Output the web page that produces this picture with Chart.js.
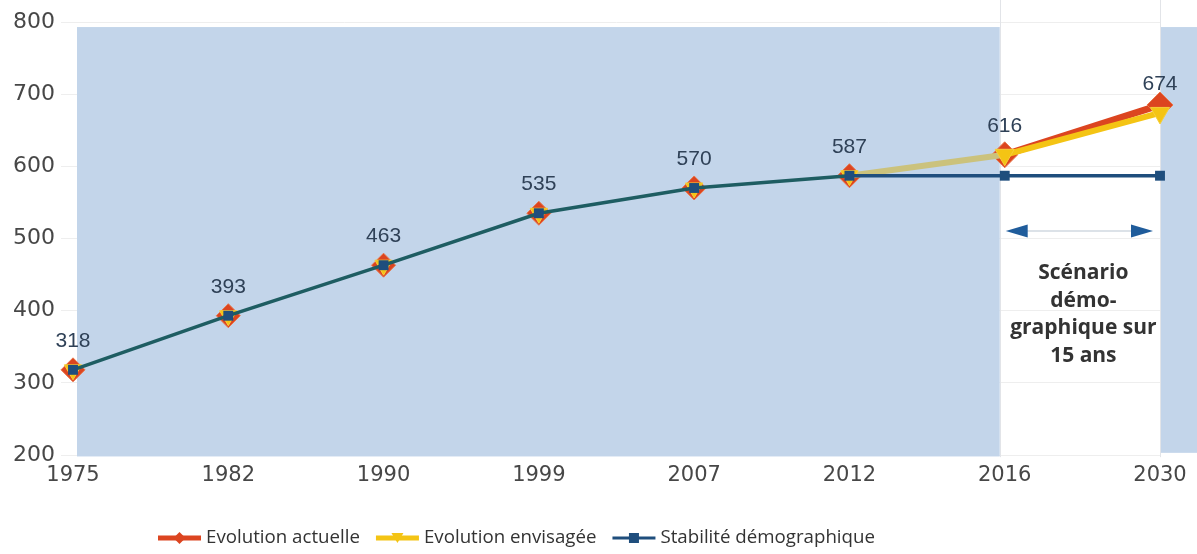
<!DOCTYPE html>
<html lang="fr">
<head>
<meta charset="utf-8">
<title>Évolution de la population</title>
<script src="https://cdn.jsdelivr.net/npm/chart.js@4/dist/chart.umd.min.js"></script>
<style>
  html, body { margin: 0; padding: 0; background: #ffffff; }
  #wrap { width: 1197px; height: 554px; position: relative; }
</style>
</head>
<body>
<div id="wrap"><canvas id="c" width="1197" height="554"></canvas></div>
<script>
// Années (axe des catégories)
const annees = ['1975', '1982', '1990', '1999', '2007', '2012', '2016', '2030'];

// Séries de population
const evolutionActuelle  = [318, 393, 463, 535, 570, 587, 616, 685];
const evolutionEnvisagee = [318, 393, 463, 535, 570, 587, 616, 674];
const stabiliteDemo      = [318, 393, 463, 535, 570, 587, 587, 587];

// Graduations de l'axe vertical
const yMin = 200, yMax = 800, yPas = 100;

// Indices des points étiquetés, par série
const etiquettesActuelle  = [0, 1, 2, 3, 4, 5, 6];
const etiquettesEnvisagee = [7];

const ROUGE = '#dc4520';
const JAUNE = '#f4c414';
const KAKI = '#cbc27c';
const MARINE = '#1f4e7d';
const SARCELLE = '#1e5d62';
const BLEU_FOND = '#c3d5ea';

const police = '"DejaVu Sans", sans-serif';

// Fond bleu (période observée et bande de droite), zone blanche du scénario
const fondPlugin = {
  id: 'fond',
  beforeDatasetsDraw(chart) {
    const { ctx, scales: { x, y } } = chart;
    const x0 = x.getPixelForValue(0), x6 = x.getPixelForValue(6), x7 = x.getPixelForValue(7);
    const top = y.getPixelForValue(793);
    ctx.save();
    ctx.fillStyle = BLEU_FOND;
    ctx.fillRect(x0 + 4, top, (x6 - 5) - (x0 + 4), y.getPixelForValue(198) - top);
    ctx.fillRect(x7, top, chart.width - x7, y.getPixelForValue(203) - top);
    ctx.strokeStyle = '#e2e4e8';
    ctx.lineWidth = 1;
    [x6 - 5, x7].forEach(px => {
      ctx.beginPath();
      ctx.moveTo(Math.round(px) + 0.5, 0);
      ctx.lineTo(Math.round(px) + 0.5, y.getPixelForValue(197));
      ctx.stroke();
    });
    ctx.restore();
  }
};

// Étiquettes de valeurs, flèche et texte du scénario, légende
const annotationsPlugin = {
  id: 'annotations',
  afterDatasetsDraw(chart) {
    const { ctx, scales: { x, y } } = chart;
    ctx.save();
    ctx.font = '21px "Liberation Sans", Arial, sans-serif';
    ctx.fillStyle = '#2f4157';
    ctx.textAlign = 'center';
    ctx.textBaseline = 'middle';
    const etiqueter = (dsIndex, indices) => {
      const meta = chart.getDatasetMeta(dsIndex);
      const data = chart.data.datasets[dsIndex].data;
      indices.forEach(i => {
        const p = meta.data[i];
        ctx.fillText(String(data[i]), p.x, p.y - 29);
      });
    };
    etiqueter(0, etiquettesActuelle);
    etiqueter(1, etiquettesEnvisagee);

    // Flèche double
    const x6 = x.getPixelForValue(6), x7 = x.getPixelForValue(7);
    const ya = 231;
    const xa = x6 + 1, xb = x7 - 7;
    ctx.strokeStyle = '#b9c5d2';
    ctx.lineWidth = 1.2;
    ctx.beginPath(); ctx.moveTo(xa + 18, ya); ctx.lineTo(xb - 18, ya); ctx.stroke();
    ctx.fillStyle = '#1f5c9b';
    ctx.beginPath(); ctx.moveTo(xa, ya); ctx.lineTo(xa + 22, ya - 6.5); ctx.lineTo(xa + 22, ya + 6.5); ctx.closePath(); ctx.fill();
    ctx.beginPath(); ctx.moveTo(xb, ya); ctx.lineTo(xb - 22, ya - 6.5); ctx.lineTo(xb - 22, ya + 6.5); ctx.closePath(); ctx.fill();

    // Texte du scénario
    const cx = (x6 + x7) / 2 + 1;
    ctx.fillStyle = '#333333';
    ctx.font = 'bold 21px "Open Sans", sans-serif';
    ['Scénario', 'démo-', 'graphique sur', '15 ans'].forEach((t, i) => {
      ctx.fillText(t, cx, 273 + i * 27.7);
    });
    ctx.restore();
  },
  afterDraw(chart) {
    // Légende : trait + marqueur + libellé
    const { ctx } = chart;
    ctx.save();
    ctx.font = '18.7px "Open Sans", sans-serif';
    ctx.textBaseline = 'middle';
    ctx.textAlign = 'left';
    let xl = 158;
    const yl = 538;
    chart.data.datasets.forEach(ds => {
      ctx.strokeStyle = ds.legendColor;
      ctx.lineWidth = ds.legendLine;
      ctx.beginPath(); ctx.moveTo(xl, yl); ctx.lineTo(xl + 43, yl); ctx.stroke();
      const mx = xl + 21.5;
      ctx.fillStyle = ds.legendColor;
      ctx.beginPath();
      if (ds.pointStyle === 'rectRot') {
        ctx.moveTo(mx, yl - 6); ctx.lineTo(mx + 6, yl); ctx.lineTo(mx, yl + 6); ctx.lineTo(mx - 6, yl);
      } else if (ds.pointStyle === 'triangle') {
        ctx.moveTo(mx - 6, yl - 5); ctx.lineTo(mx + 6, yl - 5); ctx.lineTo(mx, yl + 5);
      } else {
        ctx.rect(mx - 5, yl - 5, 10, 10);
      }
      ctx.closePath(); ctx.fill();
      ctx.fillStyle = '#333333';
      ctx.fillText(ds.label, xl + 48, yl);
      xl += 48 + ctx.measureText(ds.label).width + 16;
    });
    ctx.restore();
  }
};

new Chart(document.getElementById('c'), {
  type: 'line',
  data: {
    labels: annees,
    datasets: [
      {
        label: 'Evolution actuelle',
        data: evolutionActuelle,
        order: 3,
        borderWidth: 7,
        borderColor: ROUGE,
        segment: { borderColor: c => c.p0DataIndex < 6 ? 'transparent' : ROUGE },
        pointStyle: 'rectRot',
        pointRadius: [12, 12, 12, 12, 12, 12, 13, 13],
        pointBackgroundColor: ROUGE,
        pointBorderColor: '#e8764a',
        pointBorderWidth: 1,
        legendColor: ROUGE,
        legendLine: 5
      },
      {
        label: 'Evolution envisagée',
        data: evolutionEnvisagee,
        order: 2,
        borderWidth: 6,
        borderColor: JAUNE,
        segment: {
          borderColor: c => c.p0DataIndex < 5 ? 'transparent' : (c.p0DataIndex === 5 ? KAKI : JAUNE)
        },
        pointStyle: 'triangle',
        rotation: 180,
        pointRadius: [10, 10, 10, 10, 10, 10, 11, 11],
        pointBackgroundColor: JAUNE,
        pointBorderColor: '#f6cf3a',
        pointBorderWidth: 1,
        legendColor: JAUNE,
        legendLine: 5
      },
      {
        label: 'Stabilité démographique',
        data: stabiliteDemo,
        order: 1,
        borderWidth: 3.5,
        borderColor: MARINE,
        segment: { borderColor: c => c.p0DataIndex < 5 ? SARCELLE : MARINE },
        pointStyle: 'rect',
        pointRadius: 7,
        pointBackgroundColor: MARINE,
        pointBorderColor: MARINE,
        pointBorderWidth: 0,
        legendColor: MARINE,
        legendLine: 3
      }
    ]
  },
  options: {
    responsive: false,
    devicePixelRatio: 1,
    animation: false,
    layout: { padding: { left: 0, right: 37, top: 22, bottom: 60 } },
    plugins: {
      legend: { display: false },
      tooltip: { enabled: false }
    },
    elements: { line: { tension: 0 } },
    scales: {
      x: {
        type: 'category',
        offset: false,
        grid: { display: false },
        border: { display: false },
        ticks: {
          color: '#474747',
          font: { family: police, size: 21 },
          padding: 0,
          maxRotation: 0,
          autoSkip: false
        },
        afterFit(s) { s.height = 39; }
      },
      y: {
        min: yMin,
        max: yMax,
        border: { display: false },
        grid: { color: '#eeeeee', lineWidth: 1, tickLength: 12 },
        ticks: {
          stepSize: yPas,
          color: '#474747',
          font: { family: police, size: 22 },
          padding: 6
        },
        afterFit(s) { s.width = 73; }
      }
    }
  },
  plugins: [fondPlugin, annotationsPlugin]
});
</script>
</body>
</html>
